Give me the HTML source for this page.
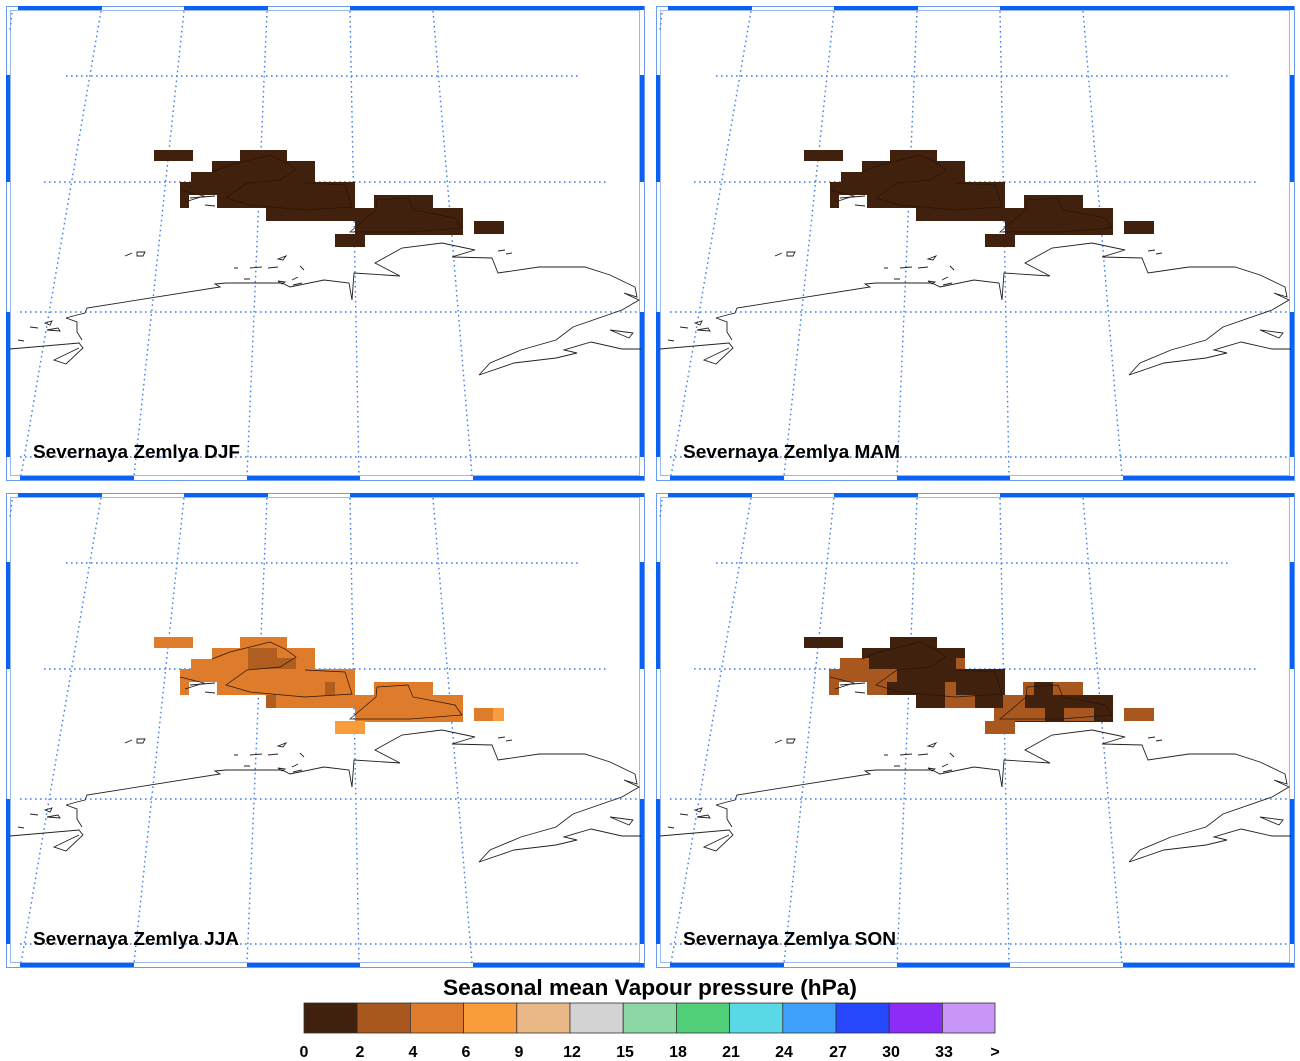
<!DOCTYPE html>
<html><head><meta charset="utf-8"><style>
html,body{margin:0;padding:0;background:#fff;}
svg{display:block;}
</style></head><body>
<svg width="1300" height="1061" viewBox="0 0 1300 1061" xmlns="http://www.w3.org/2000/svg">
<defs>
<g id="frame">
  <rect x="6.5" y="6.5" width="638" height="474" fill="none" stroke="#6a9cf0" stroke-width="1"/>
  <rect x="10.5" y="10.5" width="629" height="465" fill="none" stroke="#9ab8ee" stroke-width="1"/>
  <g fill="#0a62f5">
    <rect x="18" y="6" width="84" height="4"/><rect x="184" y="6" width="84" height="4"/><rect x="350" y="6" width="294" height="4"/>
    <rect x="20" y="476" width="114" height="4"/><rect x="247" y="476" width="113" height="4"/><rect x="473" y="476" width="171" height="4"/>
    <rect x="6" y="75" width="4" height="107"/><rect x="6" y="312" width="4" height="145"/>
    <rect x="640" y="75" width="4" height="107"/><rect x="640" y="312" width="4" height="145"/>
  </g>
</g>
<g id="grid" stroke="#3d7ef0" stroke-width="1.4" stroke-dasharray="1.6,3.4" fill="none">
  <line x1="66" y1="76" x2="579" y2="76"/>
  <line x1="44" y1="182" x2="606" y2="182"/>
  <line x1="20" y1="312" x2="640" y2="312"/>
  <line x1="20" y1="457" x2="640" y2="457"/>
  <line x1="101" y1="11" x2="21" y2="476"/>
  <line x1="184" y1="11" x2="134" y2="476"/>
  <line x1="267" y1="11" x2="247" y2="476"/>
  <line x1="350" y1="11" x2="359" y2="476"/>
  <line x1="433" y1="11" x2="472" y2="476"/>
  <line x1="12" y1="13" x2="10" y2="30"/>
</g>
<g id="coast" stroke="#222" stroke-width="0.9" fill="none">
  <path d="M10,349 L79,343 L83,348 L66,364 L54,360 L79,348"/>
  <path d="M66,318 L77,315 L85,313 L87,308 L220,287 L215,284 L226,283 L282,283 L290,287 L324,280 L349,283 L352,300 L354,273 L400,276 L375,263 L402,248 L442,243 L475,250 L452,257 L492,258 L498,273 L539,267 L585,267 L610,275 L635,287 L637,297 L624,293 L639,300 L622,310 L573,327 L556,340 L521,350 L490,363 L479,375 L514,363 L556,358 L577,353 L564,350 L591,342 L622,349 L641,349"/>
  <path d="M66,318 L77,322 L77,332 L82,340"/>
  <path d="M610,330 L633,333 L629,338 Z"/>
  <path d="M125,256 L132,253 M137,252 L145,252 L143,256 L137,256 Z"/>
  <path d="M278,259 L286,256 L283,260 Z M250,268 L262,267 M268,268 L278,267 M300,266 L304,270 M278,281 L285,282 L282,284 Z M292,280 L298,277 M293,285 L302,283"/>
  <path d="M234,268 L238,268 M244,279 L250,279 M498,251 L505,250 M506,254 L512,253"/>
  <path d="M30,327 L38,328 M45,323 L52,321 L50,325 Z M47,330 L60,331 L58,328 Z M18,340 L24,341"/>
  <path d="M190,198 L215,196 M205,205 L215,206"/>
</g>
<g id="djf" fill="#40210d">
  <rect x="154" y="150" width="39" height="11"/>
  <rect x="240" y="150" width="47" height="12"/>
  <rect x="212" y="161" width="103" height="12"/>
  <rect x="191" y="172" width="124" height="11"/>
  <path d="M180,182 H355 V221 H266 V208 H217 V195 H189 V208 H180 Z"/>
  <rect x="374" y="195" width="59" height="14"/>
  <rect x="355" y="208" width="108" height="27"/>
  <rect x="335" y="234" width="30" height="13"/>
  <rect x="474" y="221" width="30" height="13"/>
</g>
<g id="outl" stroke="#2a1408" stroke-width="0.7" fill="none">
  <path d="M212,172 L230,165 L270,155 L285,162 L296,170 L280,180 L247,183 L226,198 L250,205 L305,210 L352,207 L345,185 L305,183"/>
  <path d="M350,232 L376,210 L377,200 L408,198 L413,210 L455,218 L462,228 L410,232 Z"/>
  <path d="M180,190 L204,196 L185,202"/>
</g>
</defs>

<g>
  <use href="#frame"/><use href="#grid"/><use href="#djf"/><use href="#outl"/><use href="#coast"/>
  <text x="33" y="458" font-family="Liberation Sans, sans-serif" font-weight="bold" font-size="18" textLength="207" lengthAdjust="spacingAndGlyphs">Severnaya Zemlya DJF</text>
</g>
<g transform="translate(650,0)">
  <use href="#frame"/><use href="#grid"/><use href="#djf"/><use href="#outl"/><use href="#coast"/>
  <text x="33" y="458" font-family="Liberation Sans, sans-serif" font-weight="bold" font-size="18" textLength="217" lengthAdjust="spacingAndGlyphs">Severnaya Zemlya MAM</text>
</g>
<g transform="translate(0,487)">
  <use href="#frame"/><use href="#grid"/>
  <g fill="#de7c2c">
    <rect x="154" y="150" width="39" height="11"/>
    <rect x="240" y="150" width="47" height="12"/>
    <rect x="212" y="161" width="103" height="12"/>
    <rect x="191" y="172" width="124" height="11"/>
    <path d="M180,182 H355 V221 H266 V208 H217 V195 H189 V208 H180 Z"/>
    <rect x="374" y="195" width="59" height="14"/>
    <rect x="355" y="208" width="108" height="27"/>
    <rect x="474" y="221" width="30" height="13"/>
  </g>
  <g fill="#a8581f" opacity="0.85">
    <rect x="248" y="161" width="29" height="21"/>
    <rect x="277" y="171" width="19" height="11"/>
    <rect x="325" y="195" width="10" height="13"/>
    <rect x="266" y="208" width="10" height="13"/>
  </g>
  <g fill="#f89c3c">
    <rect x="335" y="234" width="30" height="13"/>
    <rect x="493" y="221" width="11" height="13"/>
  </g>
  <use href="#outl"/><use href="#coast"/>
  <text x="33" y="458" font-family="Liberation Sans, sans-serif" font-weight="bold" font-size="18" textLength="206" lengthAdjust="spacingAndGlyphs">Severnaya Zemlya JJA</text>
</g>
<g transform="translate(650,487)">
  <use href="#frame"/><use href="#grid"/><use href="#djf"/>
  <g fill="#a8581f">
    <rect x="190" y="171" width="29" height="11"/>
    <rect x="306" y="171" width="9" height="11"/>
    <rect x="179" y="182" width="68" height="13"/>
    <rect x="179" y="195" width="10" height="13"/>
    <rect x="217" y="195" width="20" height="13"/>
    <rect x="295" y="195" width="11" height="13"/>
    <rect x="295" y="208" width="30" height="13"/>
    <rect x="353" y="208" width="22" height="13"/>
    <rect x="344" y="221" width="51" height="13"/>
    <rect x="414" y="221" width="30" height="13"/>
    <rect x="373" y="195" width="11" height="13"/>
    <rect x="403" y="195" width="30" height="13"/>
    <rect x="335" y="234" width="30" height="13"/>
    <rect x="474" y="221" width="30" height="13"/>
  </g>
  <use href="#outl"/><use href="#coast"/>
  <text x="33" y="458" font-family="Liberation Sans, sans-serif" font-weight="bold" font-size="18" textLength="213" lengthAdjust="spacingAndGlyphs">Severnaya Zemlya SON</text>
</g>

<text x="650" y="995" text-anchor="middle" font-family="Liberation Sans, sans-serif" font-weight="bold" font-size="22" textLength="414" lengthAdjust="spacingAndGlyphs">Seasonal mean Vapour pressure (hPa)</text>
<g stroke="#333" stroke-width="0.8">
  <rect x="304" y="1003" width="53.2" height="30" fill="#40210d"/>
  <rect x="357.2" y="1003" width="53.2" height="30" fill="#a8581f"/>
  <rect x="410.4" y="1003" width="53.2" height="30" fill="#de7c2c"/>
  <rect x="463.6" y="1003" width="53.2" height="30" fill="#f89c3c"/>
  <rect x="516.8" y="1003" width="53.2" height="30" fill="#e9b886"/>
  <rect x="570" y="1003" width="53.2" height="30" fill="#d3d3d3"/>
  <rect x="623.2" y="1003" width="53.2" height="30" fill="#8cd7a4"/>
  <rect x="676.4" y="1003" width="53.2" height="30" fill="#50cf78"/>
  <rect x="729.6" y="1003" width="53.2" height="30" fill="#5ad8e6"/>
  <rect x="782.8" y="1003" width="53.2" height="30" fill="#3ea1fc"/>
  <rect x="836" y="1003" width="53.2" height="30" fill="#2647fb"/>
  <rect x="889.2" y="1003" width="53.2" height="30" fill="#8b2cf7"/>
  <rect x="942.4" y="1003" width="52.6" height="30" fill="#c996f8"/>
</g>
<g font-family="Liberation Sans, sans-serif" font-weight="bold" font-size="16" text-anchor="middle" fill="#000">
  <text x="304" y="1057">0</text><text x="360" y="1057">2</text><text x="413" y="1057">4</text>
  <text x="466" y="1057">6</text><text x="519" y="1057">9</text><text x="572" y="1057">12</text>
  <text x="625" y="1057">15</text><text x="678" y="1057">18</text><text x="731" y="1057">21</text>
  <text x="784" y="1057">24</text><text x="838" y="1057">27</text><text x="891" y="1057">30</text>
  <text x="944" y="1057">33</text><text x="995" y="1057">&gt;</text>
</g>
</svg>
</body></html>
